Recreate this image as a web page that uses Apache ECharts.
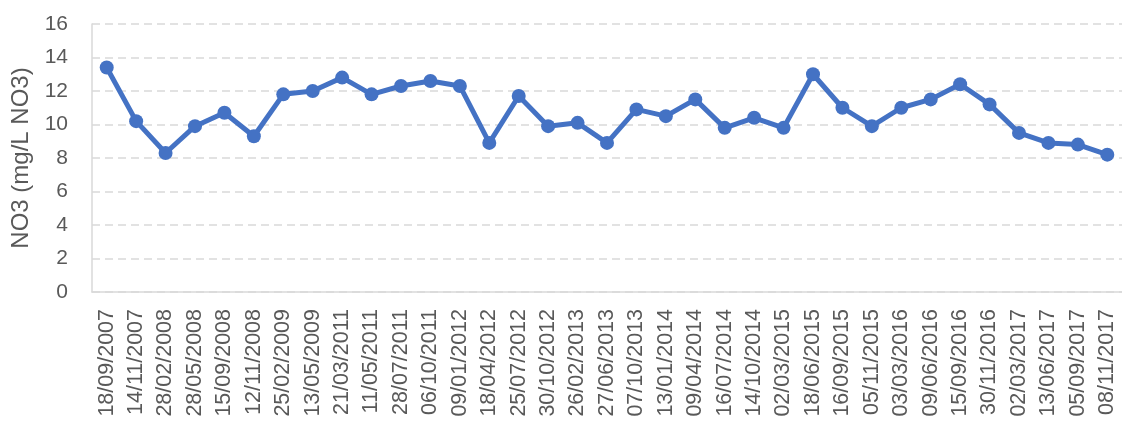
<!DOCTYPE html>
<html>
<head>
<meta charset="utf-8">
<title>NO3</title>
<script src="https://cdn.jsdelivr.net/npm/echarts@6/dist/echarts.min.js"></script>
<style>
  html, body { margin: 0; padding: 0; background: #ffffff; }
  #chart { width: 1122px; height: 424px; }
</style>
</head>
<body>
<div id="chart"></div>
<script>
// Sampling dates
const sampleDates = [
  '18/09/2007', '14/11/2007', '28/02/2008', '28/05/2008', '15/09/2008',
  '12/11/2008', '25/02/2009', '13/05/2009', '21/03/2011', '11/05/2011',
  '28/07/2011', '06/10/2011', '09/01/2012', '18/04/2012', '25/07/2012',
  '30/10/2012', '26/02/2013', '27/06/2013', '07/10/2013', '13/01/2014',
  '09/04/2014', '16/07/2014', '14/10/2014', '02/03/2015', '18/06/2015',
  '16/09/2015', '05/11/2015', '03/03/2016', '09/06/2016', '15/09/2016',
  '30/11/2016', '02/03/2017', '13/06/2017', '05/09/2017', '08/11/2017'
];

// Nitrate concentration (mg/L NO3)
const no3Values = [
  13.4, 10.2, 8.3, 9.9, 10.7,
  9.3, 11.8, 12.0, 12.8, 11.8,
  12.3, 12.6, 12.3, 8.9, 11.7,
  9.9, 10.1, 8.9, 10.9, 10.5,
  11.5, 9.8, 10.4, 9.8, 13.0,
  11.0, 9.9, 11.0, 11.5, 12.4,
  11.2, 9.5, 8.9, 8.8, 8.2
];

// Value axis range
const yMin = 0;
const yMax = 16;
const yStep = 2;
const yAxisTitle = 'NO3 (mg/L NO3)';

const textColor = '#595959';
const lineColor = '#d9d9d9';
const seriesColor = '#4472c4';
const fontFamily = '"Liberation Sans", Arial, sans-serif';

const chart = echarts.init(document.getElementById('chart'), null, { renderer: 'canvas' });

chart.setOption({
  animation: false,
  backgroundColor: '#ffffff',
  grid: {
    left: 92,
    right: -5,
    top: 24,
    bottom: 132,
    containLabel: false
  },
  xAxis: {
    type: 'category',
    data: sampleDates,
    boundaryGap: true,
    axisLine: { show: true, lineStyle: { color: lineColor, width: 1.5 } },
    axisTick: { show: false },
    axisLabel: {
      rotate: 90,
      interval: 0,
      margin: 17,
      color: textColor,
      fontFamily: fontFamily,
      fontSize: 21.5
    },
    splitLine: { show: false }
  },
  yAxis: {
    type: 'value',
    min: yMin,
    max: yMax,
    interval: yStep,
    name: yAxisTitle,
    nameLocation: 'middle',
    nameGap: 55,
    nameRotate: 90,
    nameTextStyle: {
      color: textColor,
      fontFamily: fontFamily,
      fontSize: 24
    },
    axisLine: { show: true, lineStyle: { color: lineColor, width: 1.5 } },
    axisTick: { show: false },
    axisLabel: {
      margin: 24,
      color: textColor,
      fontFamily: fontFamily,
      fontSize: 21
    },
    splitLine: {
      show: true,
      lineStyle: { color: lineColor, width: 1.5, type: [8, 5] }
    }
  },
  series: [{
    type: 'line',
    data: no3Values,
    symbol: 'circle',
    symbolSize: 14,
    lineStyle: { color: seriesColor, width: 5 },
    itemStyle: { color: seriesColor },
    clip: false
  }]
});
</script>
</body>
</html>
